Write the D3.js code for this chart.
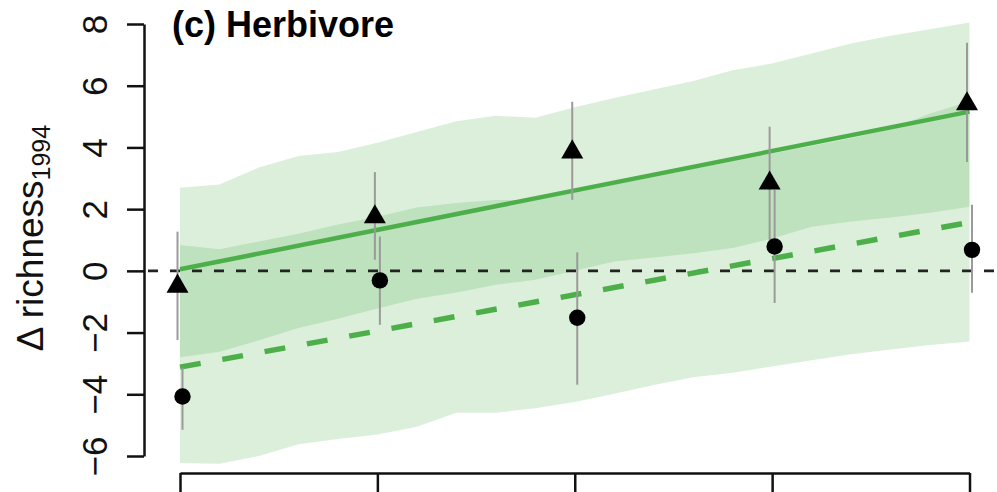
<!DOCTYPE html>
<html>
<head>
<meta charset="utf-8">
<script src="https://cdn.jsdelivr.net/npm/d3@7"></script>
<style>
  html, body { margin: 0; padding: 0; background: #fff; }
  svg { display: block; font-family: "Liberation Sans", Arial, Helvetica, sans-serif; }
</style>
</head>
<body>
<svg id="chart" width="997" height="492"></svg>
<script>
// Treatment levels on the x axis
const levels = [1, 2, 3, 4, 5];
const yTicks = [-6, -4, -2, 0, 2, 4, 6, 8];

// Observed means with error-bar limits (triangles and circles)
const triMean = [-0.5, 1.75, 3.85, 2.84, 5.41];
const triLo   = [-2.24, 0.36, 2.3, 1.0, 3.53];
const triHi   = [1.27, 3.2, 5.48, 4.67, 7.39];
const circMean = [-4.07, -0.31, -1.52, 0.79, 0.68];
const circLo   = [-5.15, -1.75, -3.69, -1.04, -0.71];
const circHi   = [-3.14, 1.11, 0.6, 2.62, 2.14];

// Fitted lines (values at the first and last level)
const fitX = [1, 5];
const solidFit  = [0.05, 5.16];
const dashedFit = [-3.12, 1.57];

// Prediction bands sampled along x
const bandX = [1.0, 1.2, 1.4, 1.6, 1.8, 2.0, 2.2, 2.4, 2.6, 2.8, 3.0,
               3.2, 3.4, 3.6, 3.8, 4.0, 4.2, 4.4, 4.6, 4.8, 5.0];
const solidBandHi = [2.69, 2.8, 3.35, 3.72, 3.85, 4.15, 4.5, 4.85, 5.03, 4.96, 5.3,
                     5.6, 5.88, 6.15, 6.5, 6.72, 7.04, 7.37, 7.62, 7.83, 8.05];
const solidBandLo = [-2.8, -2.62, -2.25, -1.85, -1.55, -1.22, -0.9, -0.7, -0.45, -0.29, 0.0,
                     0.3, 0.43, 0.57, 0.74, 1.05, 1.43, 1.6, 1.73, 1.88, 2.08];
const dashedBandHi = [0.84, 0.7, 0.95, 1.2, 1.5, 1.75, 2.05, 2.2, 2.3, 2.3, 2.55,
                      2.8, 3.05, 3.3, 3.55, 3.8, 4.05, 4.3, 4.6, 5.1, 5.49];
const dashedBandLo = [-6.23, -6.25, -6.0, -5.62, -5.45, -5.3, -5.05, -4.6, -4.6, -4.45, -4.25,
                      -3.98, -3.7, -3.45, -3.3, -3.1, -2.9, -2.7, -2.55, -2.4, -2.29];

const green = "#4daf4a";
const svg = d3.select("#chart");

const x = d3.scaleLinear().domain([1, 5]).range([180, 969.5]);
const y = d3.scaleLinear().domain([-6, 8]).range([456, 24]);
const dodge = 2.5;

// Bands
function band(lo, hi) {
  return d3.area()
    .x((d, i) => x(bandX[i]))
    .y0((d, i) => y(lo[i]))
    .y1((d, i) => y(hi[i]))(bandX);
}
svg.append("path").attr("d", band(dashedBandLo, dashedBandHi))
  .attr("fill", green).attr("fill-opacity", 0.2);
svg.append("path").attr("d", band(solidBandLo, solidBandHi))
  .attr("fill", green).attr("fill-opacity", 0.2);

// Zero reference line
svg.append("line")
  .attr("x1", 148).attr("x2", 1001)
  .attr("y1", y(0)).attr("y2", y(0))
  .attr("stroke", "#222").attr("stroke-width", 2.8)
  .attr("stroke-dasharray", "10,12");

// Fitted lines
const fitLine = d3.line().x((d, i) => x(fitX[i])).y(d => y(d));
svg.append("path").attr("d", fitLine(solidFit))
  .attr("fill", "none").attr("stroke", green).attr("stroke-width", 4.5);
svg.append("path").attr("d", fitLine(dashedFit))
  .attr("fill", "none").attr("stroke", green).attr("stroke-width", 5.5)
  .attr("stroke-dasharray", "21,22");

// Error bars
function bars(lo, hi, off) {
  svg.append("g").selectAll("line").data(levels).join("line")
    .attr("x1", (d) => x(d) + off).attr("x2", (d) => x(d) + off)
    .attr("y1", (d, i) => y(lo[i])).attr("y2", (d, i) => y(hi[i]))
    .attr("stroke", "#9a9a9a").attr("stroke-width", 2);
}
bars(triLo, triHi, -dodge);
bars(circLo, circHi, dodge);

// Points
svg.append("g").selectAll("path").data(levels).join("path")
  .attr("d", d3.symbol(d3.symbolTriangle, 210))
  .attr("transform", (d, i) => `translate(${x(d) - dodge},${y(triMean[i])})`)
  .attr("fill", "#000");
svg.append("g").selectAll("circle").data(levels).join("circle")
  .attr("cx", (d) => x(d) + dodge).attr("cy", (d, i) => y(circMean[i]))
  .attr("r", 8.2).attr("fill", "#000");

// Y axis
const yAxis = svg.append("g").attr("transform", "translate(144,0)")
  .call(d3.axisLeft(y).tickValues(yTicks).tickSize(17).tickSizeOuter(0)
        .tickFormat(d => d < 0 ? "\u2212" + Math.abs(d) : d));
yAxis.select(".domain").attr("stroke", "#111").attr("stroke-width", 2.5);
yAxis.selectAll(".tick line").attr("stroke", "#111").attr("stroke-width", 2.5);
yAxis.selectAll(".tick text")
  .attr("x", null).attr("dy", null)
  .attr("text-anchor", "middle")
  .attr("transform", "translate(-37,0) rotate(-90)")
  .attr("fill", "#111")
  .style("font-size", "35px");

// X axis
const xAxis = svg.append("g").attr("transform", "translate(0,473)")
  .call(d3.axisBottom(x).tickValues(levels).tickSize(30).tickSizeOuter(0).tickFormat(""));
xAxis.select(".domain").attr("stroke", "#111").attr("stroke-width", 2.5);
xAxis.selectAll(".tick line").attr("stroke", "#111").attr("stroke-width", 2.5);

// Y axis title
const yt = svg.append("text")
  .attr("transform", "translate(43,238) rotate(-90)")
  .attr("text-anchor", "middle")
  .attr("fill", "#111")
  .style("font-size", "37px");
yt.append("tspan").text("\u0394 richness");
yt.append("tspan").attr("dy", 7).style("font-size", "25px").text("1994");

// Panel title
svg.append("text")
  .attr("x", 172).attr("y", 37)
  .attr("fill", "#000")
  .style("font-size", "36px").style("font-weight", "bold")
  .text("(c) Herbivore");
</script>
</body>
</html>
